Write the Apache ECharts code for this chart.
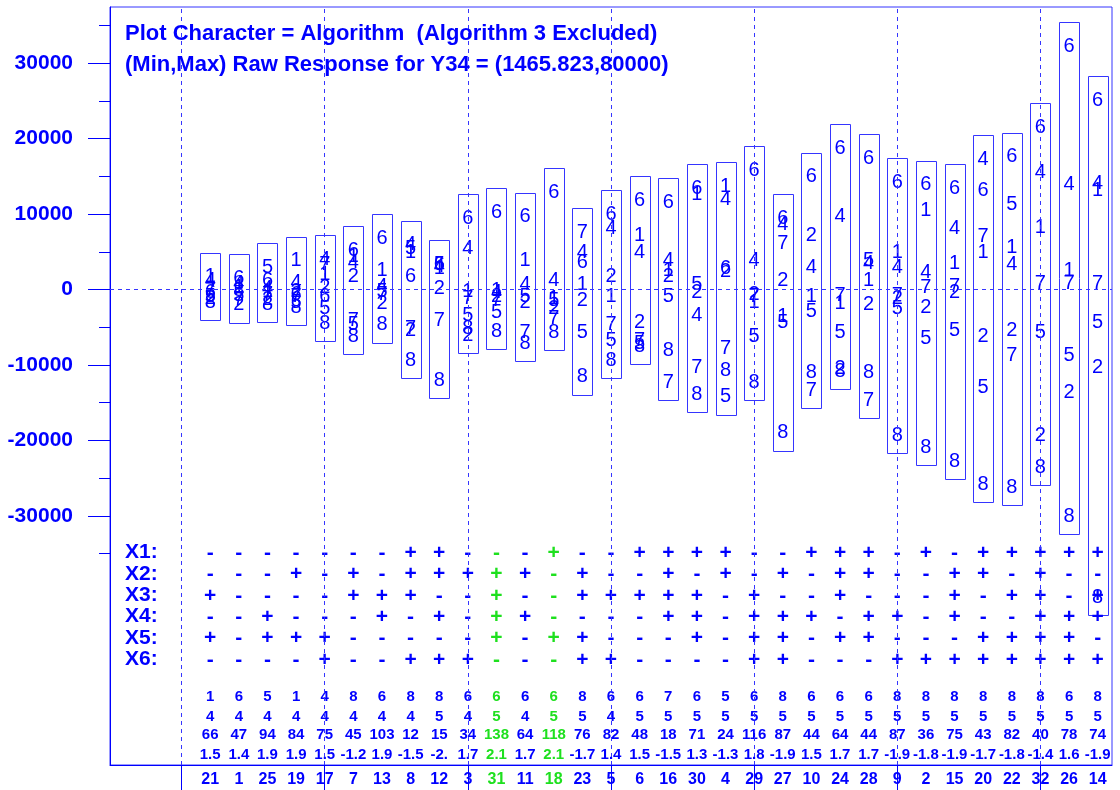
<!DOCTYPE html>
<html>
<head>
<meta charset="utf-8">
<script src="https://cdn.jsdelivr.net/npm/echarts@6/dist/echarts.min.js"></script>
<style>
  html, body { margin: 0; padding: 0; background: #fff; }
  #cv { width: 1120px; height: 790px; }
</style>
</head>
<body>
<div id="cv"></div>
<script>
// run labels along the bottom, one per column
var runs = [21, 1, 25, 19, 17, 7, 13, 8, 12, 3, 31, 11, 18, 23, 5, 6, 16, 30, 4, 29, 27, 10, 24, 28, 9, 2, 15, 20, 22, 32, 26, 14];
var greenRuns = [31, 18];

// raw response per algorithm (algorithm 3 excluded), one value per column
var alg1 = [1660, 330, -200, 3780, 2050, 4310, 2580, 4970, 2850, -200, -70, 3910, -1130, 730, -990, 7220, 2580, 12650, 13710, -1660, -3640, -990, -1790, 1130, 4840, 10530, 3510, 4840, 5630, 8280, 2580, 13180];
var alg2 = [-1130, -2050, -1260, -200, 330, 1660, -1790, -5370, 200, -6030, -990, -1660, -2450, -1390, 1660, -4310, 1660, -460, 2450, -600, 1260, 7220, -10400, -2050, -1130, -2320, -460, -6290, -5370, -19280, -13580, -10270];
var alg4 = [1130, 860, 200, 990, 4040, 3640, 460, 5900, 3110, 5370, -330, 600, 1260, 4840, 8020, 4840, 3910, -3380, 11990, 3910, 8680, 2980, 9740, 3510, 2980, 2190, 8150, 17290, 3250, 15440, 13850, 14110];
var alg5 = [-990, -730, 2980, -1660, -2450, -4570, -200, 5500, 3250, -3380, -2980, -860, -1390, -5630, -6820, -7090, -990, 600, -14240, -6290, -4310, -2850, -5630, 3910, -2450, -6430, -5370, -12920, 11330, -5760, -8680, -4310];
var alg6 = [-330, 1520, 1260, -600, -860, 5230, 6820, 1660, 3380, 9470, 10270, 9610, 12920, 3640, 10000, 11860, 11590, 13450, 2720, 15830, 9470, 14910, 18750, 17420, 14240, 13850, 13450, 13180, 17560, 21530, 32260, 25110];
var alg7 = [-70, -1260, -600, -990, 3380, -4040, -600, -5100, -4040, -1130, -1390, -5760, -3780, 7620, -4700, -6690, -12260, -10270, -7750, -990, 6160, -13320, -730, -14640, -730, 330, 460, 6960, -8680, 860, 860, 860];
var alg8 = [-1660, -70, -1920, -2320, -4440, -6160, -4700, -9340, -11990, -5100, -5500, -7090, -5630, -11590, -9340, -7490, -8020, -13850, -10670, -12260, -19010, -10930, -10800, -11060, -19280, -20870, -22720, -25770, -26170, -23520, -30010, -40740];

// factor settings X1..X6 per column
var X1 = '-------++---+--++++--+++-+-+++++';
var X2 = '---+-+-+++++-+--+-+-+-++--++-+--';
var X3 = '+----+++--+--+++++-+--+---+-++-+';
var X4 = '--+---+-+-++----++-+++-++-+--+++';
var X5 = '+-+++-----+-++---+-++-++---++++-';
var X6 = '----+--+++---++----++---++++++++';

// summary rows under the factor table
var rowA = [1, 6, 5, 1, 4, 8, 6, 8, 8, 6, 6, 6, 6, 8, 6, 6, 7, 6, 5, 6, 8, 6, 6, 6, 8, 8, 8, 8, 8, 8, 6, 8];
var rowB = [4, 4, 4, 4, 4, 4, 4, 4, 5, 4, 5, 4, 5, 5, 4, 5, 5, 5, 5, 5, 5, 5, 5, 5, 5, 5, 5, 5, 5, 5, 5, 5];
var rowC = [66, 47, 94, 84, 75, 45, 103, 12, 15, 34, 138, 64, 118, 76, 82, 48, 18, 71, 24, 116, 87, 44, 64, 44, 87, 36, 75, 43, 82, 40, 78, 74];
var rowD = ['1.5', '1.4', '1.9', '1.9', '1.5', '-1.2', '1.9', '-1.5', '-2.', '1.7', '2.1', '1.7', '2.1', '-1.7', '1.4', '1.5', '-1.5', '1.3', '-1.3', '1.8', '-1.9', '1.5', '1.7', '1.7', '-1.9', '-1.8', '-1.9', '-1.7', '-1.8', '-1.4', '1.6', '-1.9'];

var yMajor = [-30000, -20000, -10000, 0, 10000, 20000, 30000];
var yMinor = [-35000, -25000, -15000, -5000, 5000, 15000, 25000, 35000];
var xTicks = [0, 5, 10, 15, 20, 25, 30];

var BLUE = '#0000ff';
var BOX = '#3535ff';
var GREEN = '#1ee01e';
var FONT = 'Liberation Sans, Arial, sans-serif';
var Y_MIN = -63000, Y_MAX = 37430;

var algNames = ['1', '2', '4', '5', '6', '7', '8'];
var algData = [alg1, alg2, alg4, alg5, alg6, alg7, alg8];

var digitData = [];
var boxData = [];
var colIdx = [];
for (var i = 0; i < runs.length; i++) {
  var lo = Infinity, hi = -Infinity;
  for (var a = 0; a < algData.length; a++) {
    var v = algData[a][i];
    digitData.push([i + 1, v, algNames[a]]);
    lo = Math.min(lo, v); hi = Math.max(hi, v);
  }
  boxData.push([i + 1, lo, hi]);
  colIdx.push([i + 1]);
}

function isGreen(i) { return greenRuns.indexOf(runs[i]) >= 0; }

var myChart = echarts.init(document.getElementById('cv'));

var option = {
  animation: false,
  title: {
    text: 'Plot Character = Algorithm  (Algorithm 3 Excluded)\n(Min,Max) Raw Response for Y34 = (1465.823,80000)',
    left: 120,
    top: 13,
    textStyle: { color: BLUE, fontSize: 22, fontWeight: 'bold', fontFamily: FONT, lineHeight: 31 }
  },
  grid: { left: 110, right: 8, top: 7, bottom: 25, show: true, borderColor: BOX, borderWidth: 1 },
  xAxis: {
    type: 'value', min: -2.5, max: 32.5,
    axisLine: { show: true, onZero: false, lineStyle: { color: BLUE } },
    axisTick: { show: true, customValues: xTicks, length: 26, lineStyle: { color: BLUE } },
    axisLabel: {
      customValues: runs.map(function (r, k) { return k + 1; }),
      margin: 7,
      fontSize: 16, fontWeight: 'bold', fontFamily: FONT, color: BLUE,
      formatter: function (v) {
        var k = Math.round(v) - 1;
        return isGreen(k) ? '{g|' + runs[k] + '}' : String(runs[k]);
      },
      rich: { g: { color: GREEN, fontSize: 16, fontWeight: 'bold', fontFamily: FONT } }
    },
    splitLine: { show: false }
  },
  yAxis: [{
    type: 'value', min: Y_MIN, max: Y_MAX,
    axisLine: { show: true, onZero: false, lineStyle: { color: BLUE } },
    axisTick: { show: true, customValues: yMinor, length: 11, lineStyle: { color: BLUE } },
    axisLabel: { show: false },
    splitLine: { show: false }
  }, {
    type: 'value', min: Y_MIN, max: Y_MAX, position: 'left',
    axisLine: { show: false, onZero: false },
    axisTick: { show: true, customValues: yMajor, length: 22, lineStyle: { color: BLUE } },
    axisLabel: {
      customValues: yMajor, margin: 37,
      fontSize: 21, fontWeight: 'bold', fontFamily: FONT, color: BLUE,
      formatter: function (v) { return String(v); }
    },
    splitLine: { show: false }
  }],
  graphic: ['X1:', 'X2:', 'X3:', 'X4:', 'X5:', 'X6:'].map(function (t, k) {
    return {
      type: 'text', left: 125, top: 542 + k * 21.4,
      style: { text: t, fill: BLUE, font: 'bold 21px ' + FONT }
    };
  }),
  series: [{
    name: 'range',
    type: 'custom',
    data: boxData,
    silent: true,
    renderItem: function (params, api) {
      var top = api.coord([api.value(0), api.value(2)]);
      var bot = api.coord([api.value(0), api.value(1)]);
      var y0 = Math.round(top[1] - 24) + 0.5;
      var y1 = Math.round(bot[1] + 18) + 0.5;
      var x0 = Math.round(top[0] - 10) + 0.5;
      return {
        type: 'rect',
        shape: { x: x0, y: y0, width: 20, height: y1 - y0 },
        style: { fill: null, stroke: BOX, lineWidth: 1 }
      };
    },
    markLine: {
      silent: true, symbol: 'none',
      label: { show: false },
      lineStyle: { color: BOX, type: [4, 4], width: 1 },
      data: xTicks.map(function (x) { return { xAxis: x }; }).concat([{ yAxis: 0 }])
    }
  }, {
    name: 'algorithm',
    type: 'custom',
    data: digitData,
    silent: true,
    renderItem: function (params, api) {
      var p = api.coord([api.value(0), api.value(1)]);
      return {
        type: 'text',
        style: {
          text: digitData[params.dataIndex][2],
          x: p[0], y: p[1],
          align: 'center', verticalAlign: 'middle',
          fill: BLUE, font: '20px ' + FONT
        }
      };
    }
  }, {
    name: 'table',
    type: 'custom',
    data: colIdx,
    silent: true,
    renderItem: function (params, api) {
      var k = params.dataIndex;
      var base = api.coord([api.value(0), Y_MIN]);
      var x = base[0], yb = base[1];
      var col = isGreen(k) ? GREEN : BLUE;
      var kids = [];
      [X1, X2, X3, X4, X5, X6].forEach(function (row, r) {
        kids.push({
          type: 'text',
          style: {
            text: row.charAt(k), x: x, y: yb - 212 + r * 21.4,
            align: 'center', verticalAlign: 'middle',
            fill: col, font: 'bold 21px ' + FONT
          }
        });
      });
      [[rowA, 68], [rowB, 48], [rowC, 30], [rowD, 10]].forEach(function (pair) {
        kids.push({
          type: 'text',
          style: {
            text: String(pair[0][k]), x: x, y: yb - pair[1],
            align: 'center', verticalAlign: 'middle',
            fill: col, font: 'bold 15px ' + FONT
          }
        });
      });
      return { type: 'group', children: kids };
    }
  }]
};

myChart.setOption(option);
</script>
</body>
</html>
